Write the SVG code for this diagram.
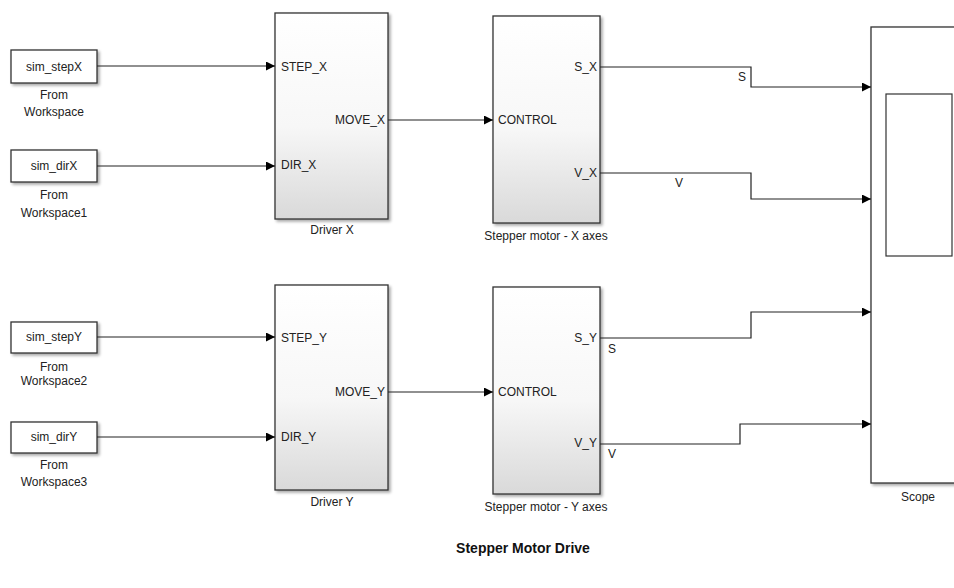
<svg xmlns="http://www.w3.org/2000/svg" width="954" height="588" viewBox="0 0 954 588">
<defs>
<linearGradient id="g" x1="0" y1="0" x2="0" y2="1">
<stop offset="0" stop-color="#ffffff"/>
<stop offset="0.55" stop-color="#f7f7f7"/>
<stop offset="1" stop-color="#d9d9d9"/>
</linearGradient>
<filter id="sh" x="-10%" y="-10%" width="130%" height="130%">
<feGaussianBlur in="SourceAlpha" stdDeviation="1.5"/>
<feOffset dx="2" dy="2"/>
<feComponentTransfer><feFuncA type="linear" slope="0.35"/></feComponentTransfer>
<feMerge><feMergeNode/><feMergeNode in="SourceGraphic"/></feMerge>
</filter>
<marker id="ar" viewBox="0 0 10 10" refX="10" refY="5" markerWidth="10" markerHeight="9" markerUnits="userSpaceOnUse" orient="auto">
<path d="M0,0 L10,5 L0,10 z" fill="#000"/>
</marker>
</defs>
<style>
text{font-family:"Liberation Sans",Arial,sans-serif;font-size:12px;fill:#222;}
.blk{fill:#fff;stroke:#333;stroke-width:1.3;filter:url(#sh);}
.sub{fill:url(#g);stroke:#333;stroke-width:1.3;filter:url(#sh);}
.ln{fill:none;stroke:#222;stroke-width:1.2;marker-end:url(#ar);}
.c{text-anchor:middle;}
.r{text-anchor:end;}
.title{font-size:14px;font-weight:bold;fill:#111;}
</style>
<rect width="954" height="588" fill="#fff"/>

<g id="fromWorkspace">
<rect class="blk" x="11" y="50" width="86" height="33"/>
<text class="c" x="54" y="71">sim_stepX</text>
<text class="c" x="54" y="99">From</text>
<text class="c" x="54" y="116">Workspace</text>
</g>
<g id="fromWorkspace1">
<rect class="blk" x="11" y="150" width="86" height="32"/>
<text class="c" x="54" y="170">sim_dirX</text>
<text class="c" x="54" y="199">From</text>
<text class="c" x="54" y="217">Workspace1</text>
</g>
<g id="fromWorkspace2">
<rect class="blk" x="11" y="322" width="86" height="31"/>
<text class="c" x="54" y="341">sim_stepY</text>
<text class="c" x="54" y="371">From</text>
<text class="c" x="54" y="385">Workspace2</text>
</g>
<g id="fromWorkspace3">
<rect class="blk" x="11" y="422" width="86" height="31"/>
<text class="c" x="54" y="441">sim_dirY</text>
<text class="c" x="54" y="469">From</text>
<text class="c" x="54" y="486">Workspace3</text>
</g>

<g id="driverX">
<rect class="sub" x="275" y="13" width="113" height="206"/>
<text x="281" y="71">STEP_X</text>
<text x="281" y="169">DIR_X</text>
<text class="r" x="385" y="124">MOVE_X</text>
<text class="c" x="332" y="234">Driver X</text>
</g>
<g id="motorX">
<rect class="sub" x="493" y="16" width="107" height="207"/>
<text x="498" y="124">CONTROL</text>
<text class="r" x="597" y="71">S_X</text>
<text class="r" x="597" y="177">V_X</text>
<text class="c" x="546" y="240">Stepper motor - X axes</text>
</g>
<g id="driverY">
<rect class="sub" x="275" y="285" width="113" height="205"/>
<text x="281" y="342">STEP_Y</text>
<text x="281" y="441">DIR_Y</text>
<text class="r" x="385" y="396">MOVE_Y</text>
<text class="c" x="332" y="506">Driver Y</text>
</g>
<g id="motorY">
<rect class="sub" x="493" y="287" width="107" height="207"/>
<text x="498" y="396">CONTROL</text>
<text class="r" x="597" y="342">S_Y</text>
<text class="r" x="597" y="447">V_Y</text>
<text class="c" x="546" y="511">Stepper motor - Y axes</text>
</g>
<g id="scope">
<rect class="blk" x="871" y="27" width="100" height="456"/>
<rect x="886" y="94" width="66" height="162" fill="#fff" stroke="#333" stroke-width="1.2"/>
<text class="c" x="918" y="501">Scope</text>
</g>

<g id="connectors">
<path class="ln" d="M97,66 H275"/>
<path class="ln" d="M97,166 H275"/>
<path class="ln" d="M97,337 H275"/>
<path class="ln" d="M97,437 H275"/>
<path class="ln" d="M388,120 H493"/>
<path class="ln" d="M388,392 H493"/>
<path class="ln" d="M600,67 H751 V87 H871"/>
<path class="ln" d="M600,173 H751 V199 H871"/>
<path class="ln" d="M600,338 H751 V312 H871"/>
<path class="ln" d="M600,444 H740 V424 H871"/>
<text x="738" y="81">S</text>
<text x="675" y="187">V</text>
<text x="608" y="353">S</text>
<text x="608" y="458">V</text>
</g>

<text class="title c" x="523" y="553">Stepper Motor Drive</text>
</svg>
